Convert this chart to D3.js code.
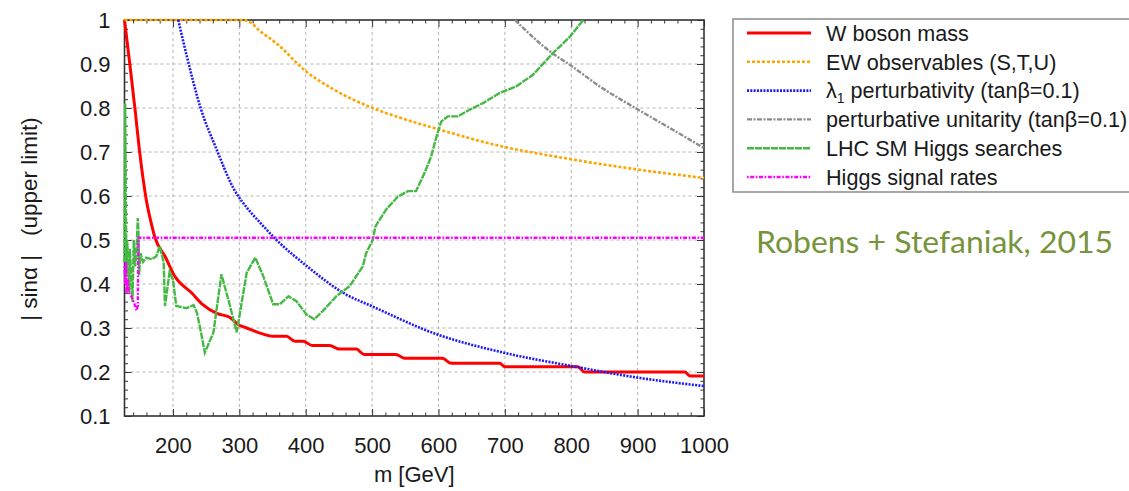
<!DOCTYPE html>
<html>
<head>
<meta charset="utf-8">
<script src="https://cdn.jsdelivr.net/npm/d3@7"></script>
<style>
  body { margin: 0; background: #fff; }
  svg { display: block; }
</style>
</head>
<body>
<div id="chart-container"></div>
<script>
// limits on |sin alpha| vs heavy scalar mass
const xMajor = [200, 300, 400, 500, 600, 700, 800, 900, 1000];
const yMajor = [0.1, 0.2, 0.3, 0.4, 0.5, 0.6, 0.7, 0.8, 0.9, 1];

const wMass = [
  [127, 1.0], [135, 0.9], [143, 0.795], [150, 0.698], [160, 0.59], [167, 0.54],
  [173, 0.505], [188, 0.463], [203, 0.417], [228, 0.38], [245, 0.353], [266, 0.333],
  [286, 0.324], [298, 0.308], [311, 0.30], [328, 0.29], [351, 0.281],
  [371, 0.281], [384, 0.27], [396, 0.27], [410, 0.26], [436, 0.26], [451, 0.252],
  [476, 0.252], [488, 0.24], [536, 0.24], [549, 0.231], [606, 0.231], [619, 0.22],
  [692, 0.22], [700, 0.212], [810, 0.212], [820, 0.2], [971, 0.2], [979, 0.191],
  [1000, 0.191]
];
const ewObs = [
  [127, 1.0], [305, 1.0], [316, 0.995], [331, 0.975], [356, 0.947], [399, 0.885],
  [441, 0.843], [499, 0.801], [546, 0.776], [599, 0.752], [692, 0.714], [798, 0.684],
  [901, 0.66], [1000, 0.641]
];
const lambdaPert = [
  [208, 1.0], [221, 0.917], [241, 0.803], [266, 0.705], [291, 0.618], [316, 0.565],
  [331, 0.54], [356, 0.5], [399, 0.444], [461, 0.376], [499, 0.35], [597, 0.286],
  [692, 0.246], [799, 0.214], [901, 0.187], [1000, 0.168]
];
const pertUnit = [
  [715, 1.0], [772, 0.924], [798, 0.898], [843, 0.849], [901, 0.796], [949, 0.754],
  [1000, 0.709]
];
const lhcSearch = [
  [127, 0.45], [128, 0.81], [129, 0.6], [130, 0.42], [131, 0.5], [132, 0.46],
  [134, 0.38], [135, 0.48], [137, 0.42], [139, 0.36], [141, 0.5], [143, 0.44],
  [145, 0.47], [147, 0.55], [148, 0.52], [149, 0.42], [151, 0.47], [155, 0.45],
  [160, 0.46], [168, 0.456], [175, 0.463], [180, 0.486], [186, 0.45], [188, 0.35],
  [195, 0.428], [200, 0.41], [205, 0.35], [220, 0.345], [231, 0.352], [236, 0.335],
  [241, 0.30], [248, 0.244], [261, 0.29], [273, 0.422], [286, 0.35], [296, 0.29],
  [311, 0.425], [324, 0.46], [336, 0.418], [351, 0.354], [361, 0.354], [374, 0.372],
  [386, 0.361], [401, 0.331], [413, 0.32], [426, 0.339], [446, 0.372], [466, 0.395],
  [486, 0.44], [491, 0.47], [501, 0.5], [505, 0.531], [521, 0.569], [539, 0.599],
  [554, 0.611], [566, 0.611], [579, 0.652], [589, 0.69], [597, 0.735], [604, 0.769],
  [614, 0.781], [629, 0.781], [647, 0.796], [667, 0.811], [692, 0.834], [717, 0.849],
  [742, 0.875], [772, 0.924], [798, 0.962], [818, 1.0]
];
const signalRates = [
  [127, 0.44], [128, 0.40], [129, 0.45], [130, 0.38], [132, 0.41], [134, 0.38],
  [138, 0.37], [142, 0.355], [145, 0.34], [147, 0.35], [148, 0.505], [1000, 0.505]
];

const series = [
  {name: 'W boson mass', data: wMass, color: '#ff0000', dash: null, w: 3, curve: d3.curveMonotoneX},
  {name: 'EW observables (S,T,U)', data: ewObs, color: '#ffa500', dash: '3,2', w: 2.6, curve: d3.curveMonotoneX},
  {name: 'lambda', data: lambdaPert, color: '#1a1aff', dash: '2,1.3', w: 2.6, curve: d3.curveMonotoneX},
  {name: 'perturbative unitarity (tan\u03b2=0.1)', data: pertUnit, color: '#8c8c8c', dash: '5,1.5,2,1.5', w: 2.4, curve: d3.curveMonotoneX},
  {name: 'LHC SM Higgs searches', data: lhcSearch, color: '#45b845', dash: '7,1', w: 2.4, curve: d3.curveLinear},
  {name: 'Higgs signal rates', data: signalRates, color: '#ff00ff', dash: '1.6,1.6,4,1.6', w: 2.4, curve: d3.curveLinear}
];

const FONT = '"Liberation Sans", Arial, Helvetica, sans-serif';
const width = 1129, height = 491;
const margin = {top: 20, left: 124.5};
const gWidth = 579.5, gHeight = 396;

const svg = d3.select('#chart-container')
  .append('svg')
  .attr('width', width)
  .attr('height', height)
  .style('font-family', FONT);

const g = svg.append('g')
  .attr('transform', `translate(${margin.left}, ${margin.top})`);

const xScale = d3.scaleLinear().domain([127, 1000]).range([0, gWidth]);
const yScale = d3.scaleLinear().domain([0.1, 1]).range([gHeight, 0]);

// dashed grid
g.append('g')
  .selectAll('line.vgrid')
  .data(xMajor.slice(0, -1))
  .join('line')
  .attr('x1', xScale).attr('x2', xScale)
  .attr('y1', 0).attr('y2', gHeight);
g.append('g')
  .selectAll('line.hgrid')
  .data(yMajor.slice(1, -1))
  .join('line')
  .attr('x1', 0).attr('x2', gWidth)
  .attr('y1', yScale).attr('y2', yScale);
g.selectAll('line')
  .attr('stroke', '#b4b4b4')
  .attr('stroke-width', 1)
  .attr('stroke-dasharray', '3,3');

// minor ticks every 20 GeV / 0.02
const xMinor = d3.range(140, 1000, 20).filter(v => v % 100 !== 0);
const yMinor = d3.range(0.12, 1, 0.02).filter(v => Math.abs(v * 10 - Math.round(v * 10)) > 1e-6);

const tickGroup = (axis, tr) => g.append('g')
  .attr('transform', tr)
  .attr('color', '#333')
  .call(axis)
  .call(s => s.select('.domain').remove());

tickGroup(d3.axisBottom(xScale).tickValues(xMinor).tickSize(-3.5).tickFormat(''), `translate(0,${gHeight})`);
tickGroup(d3.axisTop(xScale).tickValues(xMinor).tickSize(-3.5).tickFormat(''), 'translate(0,0)');
tickGroup(d3.axisLeft(yScale).tickValues(yMinor).tickSize(-3.5).tickFormat(''), 'translate(0,0)');
tickGroup(d3.axisRight(yScale).tickValues(yMinor).tickSize(-3.5).tickFormat(''), `translate(${gWidth},0)`);
tickGroup(d3.axisTop(xScale).tickValues(xMajor).tickSize(-7).tickFormat(''), 'translate(0,0)');
tickGroup(d3.axisRight(yScale).tickValues(yMajor).tickSize(-7).tickFormat(''), `translate(${gWidth},0)`);

// labelled axes
tickGroup(
  d3.axisBottom(xScale).tickValues(xMajor).tickSize(-7).tickPadding(21).tickFormat(d3.format('d')),
  `translate(0,${gHeight})`)
  .attr('font-size', 22).attr('font-family', FONT)
  .selectAll('text').attr('fill', '#1a1a1a');
tickGroup(
  d3.axisLeft(yScale).tickValues(yMajor).tickSize(-7).tickPadding(14)
    .tickFormat(d => d === 1 ? '1' : d.toFixed(1)),
  'translate(0,0)')
  .attr('font-size', 22).attr('font-family', FONT)
  .selectAll('text').attr('fill', '#1a1a1a');

// frame
g.append('rect')
  .attr('width', gWidth)
  .attr('height', gHeight)
  .attr('fill', 'none')
  .attr('stroke', '#333')
  .attr('stroke-width', 1.6);

// curves, clipped to the frame
svg.append('clipPath').attr('id', 'plot-clip')
  .append('rect')
  .attr('x', -2).attr('y', -2)
  .attr('width', gWidth + 4).attr('height', gHeight + 4);

const lineGen = d3.line()
  .x(d => xScale(d[0]))
  .y(d => yScale(d[1]));

const curves = g.append('g').attr('clip-path', 'url(#plot-clip)');
series.forEach(s => {
  curves.append('path')
    .datum(s.data)
    .attr('fill', 'none')
    .attr('stroke', s.color)
    .attr('stroke-width', s.w)
    .attr('stroke-dasharray', s.dash)
    .attr('d', lineGen.curve(s.curve));
});

// axis titles
svg.append('text')
  .attr('x', margin.left + gWidth / 2)
  .attr('y', 482)
  .attr('text-anchor', 'middle')
  .attr('font-size', 22)
  .attr('fill', '#1a1a1a')
  .text('m [GeV]');

svg.append('text')
  .attr('transform', 'translate(37, 219) rotate(-90)')
  .attr('text-anchor', 'middle')
  .attr('font-size', 22.5)
  .attr('fill', '#1a1a1a')
  .attr('xml:space', 'preserve')
  .style('white-space', 'pre')
  .text('| sin\u03b1 |   (upper limit)');

// legend
const legend = svg.append('g');
legend.append('rect')
  .attr('x', 733).attr('y', 19)
  .attr('width', 430).attr('height', 173)
  .attr('fill', '#fff')
  .attr('stroke', '#8a8a8a')
  .attr('stroke-width', 1.5);

const rowY = i => 33 + i * 28.8;
series.forEach((s, i) => {
  legend.append('line')
    .attr('x1', 747).attr('x2', 811)
    .attr('y1', rowY(i)).attr('y2', rowY(i))
    .attr('stroke', s.color)
    .attr('stroke-width', s.w)
    .attr('stroke-dasharray', s.dash);
  const t = legend.append('text')
    .attr('x', 826)
    .attr('y', rowY(i))
    .attr('dy', '0.36em')
    .attr('font-size', 21.6)
    .attr('fill', '#1a1a1a');
  if (s.name === 'lambda') {
    t.append('tspan').text('\u03bb');
    t.append('tspan').attr('dy', 5).attr('font-size', 14).text('1');
    t.append('tspan').attr('dy', -5).text(' perturbativity (tan\u03b2=0.1)');
  } else {
    t.text(s.name);
  }
});

// citation
svg.append('text')
  .attr('x', 756)
  .attr('y', 253)
  .attr('font-family', 'Lato, "Open Sans", sans-serif')
  .attr('font-size', 31)
  .attr('fill', '#77933c')
  .attr('textLength', 357)
  .attr('lengthAdjust', 'spacingAndGlyphs')
  .text('Robens + Stefaniak, 2015');
</script>
</body>
</html>
